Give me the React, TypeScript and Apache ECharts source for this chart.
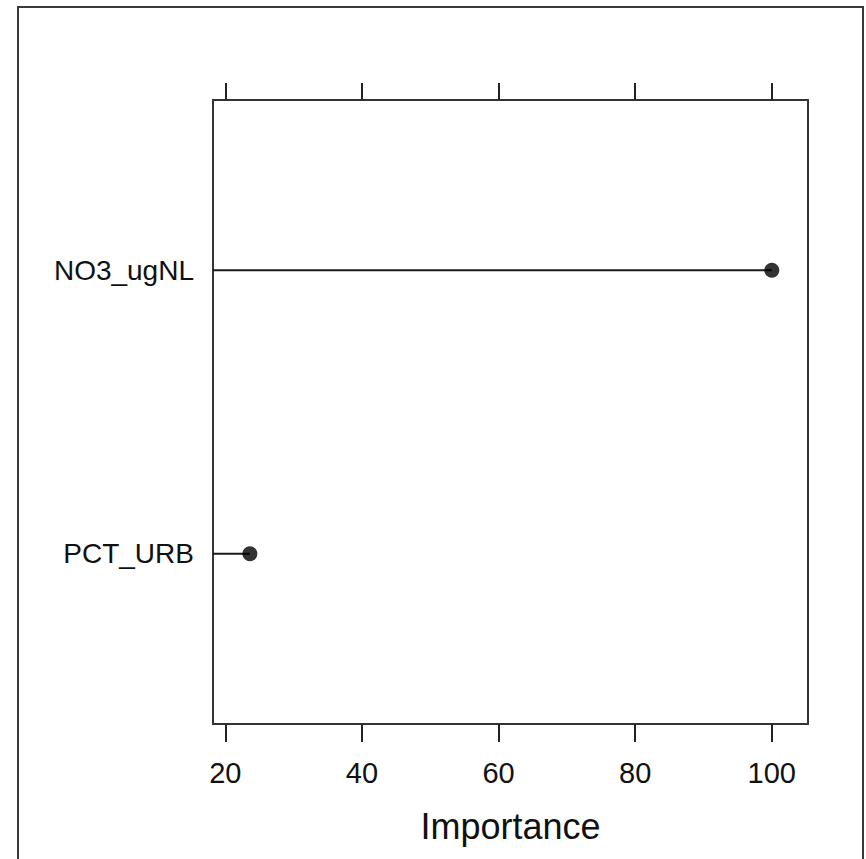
import React, { useEffect, useRef } from "react";
import * as echarts from "echarts";

const categories = ["PCT_URB", "NO3_ugNL"];
const importance = [23.6, 100];
const xTicks = [20, 40, 60, 80, 100];
const X_MIN = 18.2;
const X_MAX = 105.3;
const Y_MIN = 0.4;
const Y_MAX = 2.6;

const FONT = "Liberation Sans, Arial, Helvetica, sans-serif";

export default function App() {
  const ref = useRef<HTMLDivElement>(null);
  useEffect(() => {
    if (!ref.current) return;
    const chart = echarts.init(ref.current, null, { renderer: "svg" });
    const lineSeries = categories.map((c, i) => ({
      type: "line",
      name: c,
      data: [
        [X_MIN, i + 1],
        [importance[i], i + 1],
      ],
      symbol: "none",
      lineStyle: { color: "#1a1a1a", width: 2 },
      silent: true,
      z: 2,
    }));
    const axisLine = { show: true, onZero: false, lineStyle: { color: "#333", width: 2 } };
    chart.setOption({
      animation: false,
      backgroundColor: "#fff",
      grid: { left: 213, right: 58, top: 100, bottom: 135, containLabel: false },
      graphic: [
        {
          type: "rect",
          shape: { x: 18, y: 7, width: 845, height: 900 },
          style: { fill: "none", stroke: "#3a3a3a", lineWidth: 2 },
          silent: true,
        },
      ],
      xAxis: [
        {
          type: "value",
          position: "bottom",
          min: X_MIN,
          max: X_MAX,
          axisLine,
          axisTick: {
            show: true,
            length: 18,
            inside: false,
            lineStyle: { color: "#222", width: 2 },
            customValues: xTicks,
          },
          axisLabel: {
            show: true,
            margin: 34,
            fontSize: 29,
            color: "#111",
            fontFamily: FONT,
            customValues: xTicks,
          },
          splitLine: { show: false },
          name: "Importance",
          nameLocation: "middle",
          nameGap: 84,
          nameTextStyle: { fontSize: 36, color: "#111", fontFamily: FONT },
        },
        {
          type: "value",
          position: "top",
          min: X_MIN,
          max: X_MAX,
          axisLine,
          axisTick: {
            show: true,
            length: 17,
            inside: false,
            lineStyle: { color: "#222", width: 2 },
            customValues: xTicks,
          },
          axisLabel: { show: false },
          splitLine: { show: false },
        },
      ],
      yAxis: [
        {
          type: "value",
          position: "left",
          min: Y_MIN,
          max: Y_MAX,
          interval: 0.2,
          axisLine,
          axisTick: { show: false },
          splitLine: { show: false },
          axisLabel: {
            margin: 19,
            fontSize: 28,
            color: "#111",
            fontFamily: FONT,
            formatter: (v: number) => {
              const idx = Math.round(v);
              if (Math.abs(v - idx) < 1e-6 && idx >= 1 && idx <= categories.length) {
                return categories[idx - 1];
              }
              return "";
            },
          },
        },
        {
          type: "value",
          position: "right",
          min: Y_MIN,
          max: Y_MAX,
          axisLine,
          axisTick: { show: false },
          axisLabel: { show: false },
          splitLine: { show: false },
        },
      ],
      series: [
        ...lineSeries,
        {
          type: "scatter",
          data: categories.map((c, i) => [importance[i], i + 1]),
          symbol: "circle",
          symbolSize: 15,
          itemStyle: { color: "#000" },
          z: 3,
        },
      ],
    });
    return () => chart.dispose();
  }, []);
  return <div ref={ref} style={{ width: 866, height: 859, position: "absolute", left: 0, top: 0 }} />;
}
